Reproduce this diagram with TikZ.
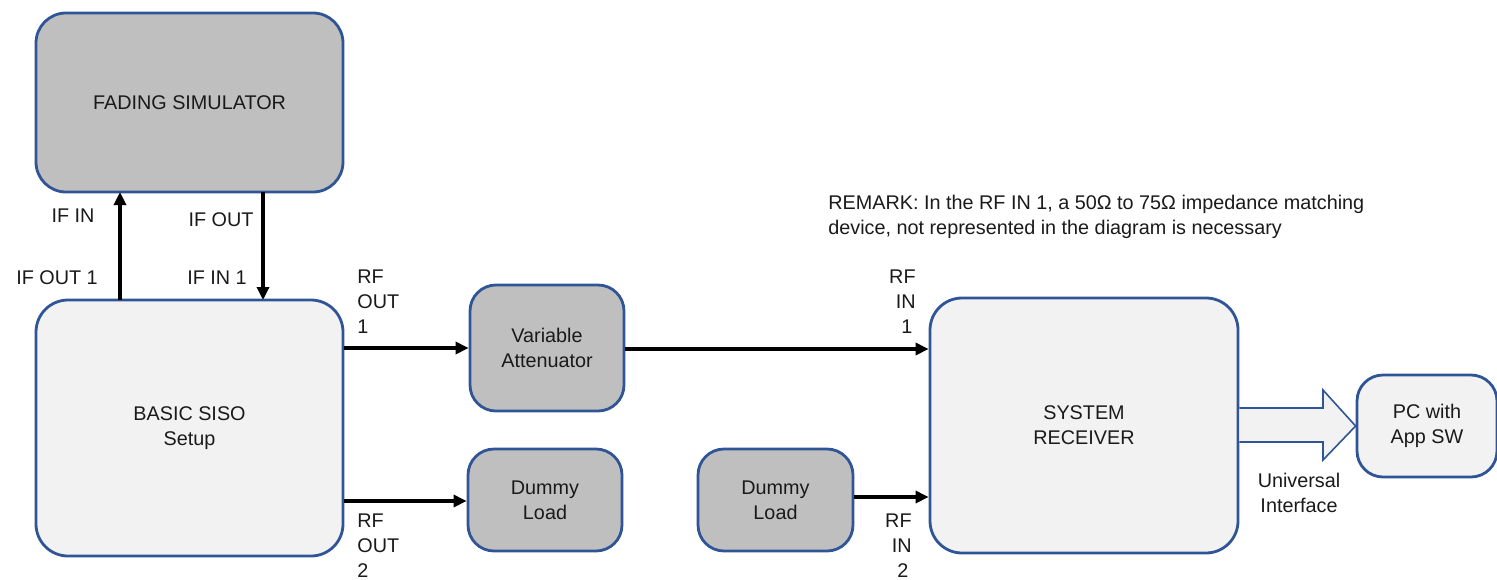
\documentclass[tikz,border=0pt]{standalone}
\usepackage{fontspec}
\setmainfont{Liberation Sans}
\usetikzlibrary{arrows.meta,calc}
\definecolor{bordblue}{HTML}{2F5597}
\definecolor{boxgray}{HTML}{BFBFBF}
\definecolor{boxlight}{HTML}{F2F2F2}
\definecolor{txt}{HTML}{1A1A1A}
\begin{document}
\begin{tikzpicture}[x=0.5pt,y=-0.5pt,
  every node/.style={font=\fontsize{9.9}{12.5}\selectfont, text=txt},
  blk/.style={draw=bordblue, line width=1.4pt, rounded corners=13pt, align=center, inner sep=0pt},
  gray blk/.style={blk, fill=boxgray},
  light blk/.style={blk, fill=boxlight},
  conn/.style={line width=1.6pt, -{Triangle[length=6.5pt,width=6pt]}},
  lbl/.style={align=center, inner sep=0pt},
  lbll/.style={align=left, inner sep=0pt, anchor=north west}
]
\useasboundingbox (0,0) rectangle (1497,579);

\node[gray blk, rounded corners=15pt, minimum width=153.5pt, minimum height=89.5pt] (fad) at (189.5,102.5) {FADING SIMULATOR};
\node[light blk, rounded corners=16pt, minimum width=153.5pt, minimum height=128pt] (siso) at (189.5,428) {BASIC SISO\\Setup};
\node[gray blk, minimum width=77pt, minimum height=63pt] (att) at (547,348) {Variable\\Attenuator};
\node[gray blk, minimum width=77pt, minimum height=51pt] (dl1) at (545,500) {Dummy\\Load};
\node[gray blk, minimum width=77.5pt, minimum height=51pt] (dl2) at (775.5,500) {Dummy\\Load};
\node[light blk, rounded corners=16pt, minimum width=154pt, minimum height=127.5pt] (recv) at (1084,425.5) {SYSTEM\\RECEIVER};
\node[light blk, minimum width=70pt, minimum height=51pt] (pc) at (1427,426) {PC with\\App SW};

% IF connections
\coordinate (ifo1) at (120,300);
\coordinate (ifin) at (120,192);
\coordinate (ifout) at (263,192);
\coordinate (ifin1) at (263,300);
\draw[conn] (ifo1) -- (ifin);
\draw[conn] (ifout) -- (ifin1);

% RF connections
\draw[conn] (siso.east |- 0,348) -- (att.west |- 0,348);
\draw[conn] (att.east |- 0,349) -- (recv.west |- 0,349);
\draw[conn] (siso.east |- 0,501) -- (dl1.west |- 0,501);
\draw[conn] (dl2.east |- 0,497) -- (recv.west |- 0,497);

% Universal interface big arrow
\draw[draw=bordblue, line width=0.8pt, fill=boxlight]
  (recv.east |- 0,408) -- (1323,408) -- (1323,390) -- (pc.west) -- (1323,460) -- (1323,442) -- (recv.east |- 0,442);

% labels
\node[lbl] (lifin) at (73,216) {IF IN};
\node[lbl] (lifout) at (221,220) {IF OUT};
\node[lbl] (lifout1) at (57,278) {IF OUT 1};
\node[lbl] (lifin1) at (217,278) {IF IN 1};
\node[lbll] (lrfo1) at (357,269) {RF\\OUT\\1};
\node[lbll] (lrfo2) at (357,513) {RF\\OUT\\2};
\node[align=right, inner sep=0pt, anchor=north east] (lrfi1) at (916,269) {RF\\IN\\1\,};
\node[align=right, inner sep=0pt, anchor=north east] (lrfi2) at (912,513) {RF\\IN\\2\,};
\node[lbl] (lui) at (1299,493) {Universal\\Interface};
\node[lbll] (rem) at (828,195) {REMARK: In the RF IN 1, a 50Ω to 75Ω impedance matching\\device, not represented in the diagram is necessary};
\end{tikzpicture}
\end{document}
